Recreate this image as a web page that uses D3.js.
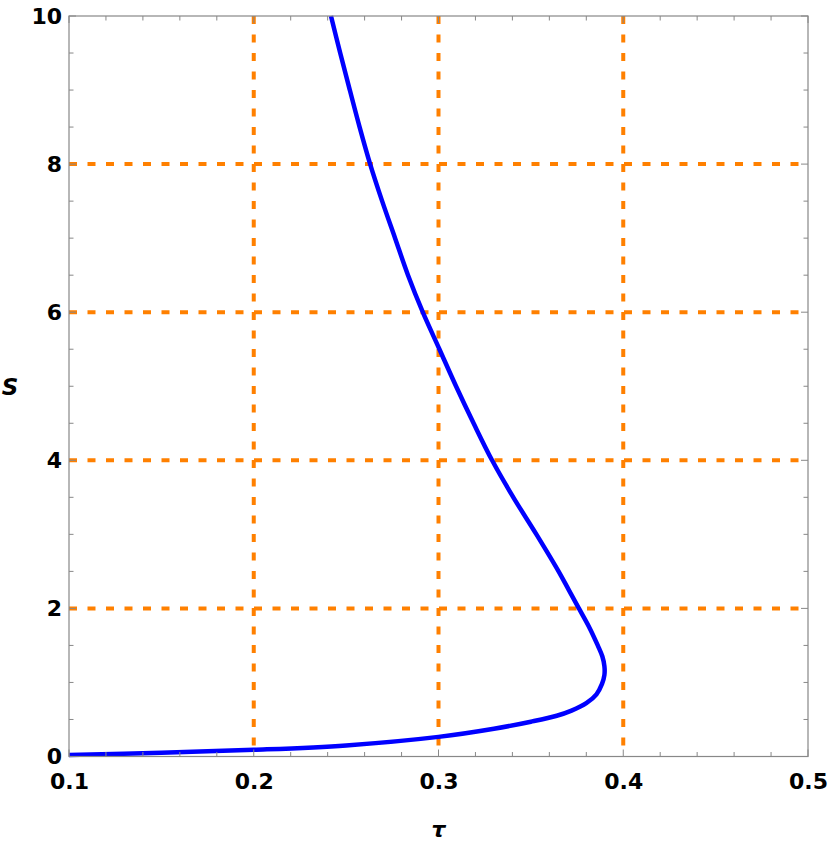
<!DOCTYPE html>
<html>
<head>
<meta charset="utf-8">
<script src="https://cdn.jsdelivr.net/npm/d3@7"></script>
<style>
  html, body { margin: 0; padding: 0; background: #fff; }
  svg { display: block; }
</style>
</head>
<body>
<script>
// Data
const tauValues = [0.1, 0.15, 0.2, 0.25, 0.3, 0.33, 0.35, 0.364, 0.372, 0.380, 0.3855, 0.3885, 0.3898, 0.3898, 0.3887, 0.3862, 0.3815, 0.3760, 0.3705, 0.3650, 0.3530, 0.3405, 0.329, 0.319, 0.3095, 0.3005, 0.2915, 0.2835, 0.2765, 0.2695, 0.263, 0.2573, 0.252, 0.2468, 0.2418];
const sValues   = [0.02, 0.05, 0.09, 0.15, 0.265, 0.375, 0.47, 0.55, 0.62, 0.72, 0.84, 0.98, 1.1, 1.22, 1.35, 1.5, 1.75, 2.0, 2.25, 2.5, 3.0, 3.5, 4.0, 4.5, 5.0, 5.5, 6.0, 6.5, 7.0, 7.5, 8.0, 8.5, 9.0, 9.5, 10.0];
const xTickLabels = [0.1, 0.2, 0.3, 0.4, 0.5];
const yTickLabels = [0, 2, 4, 6, 8, 10];
const xGrid = [0.2, 0.3, 0.4];
const yGrid = [2, 4, 6, 8];
const xMinorTicks = d3.range(0.1, 0.5001, 0.02);
const yMinorTicks = d3.range(0, 10.001, 0.5);

const W = 830, H = 845;
const L = 69, R = 808, T = 16, B = 756.5;

const svg = d3.select("body").append("svg").attr("width", W).attr("height", H);
const x = d3.scaleLinear().domain([0.1, 0.5]).range([L, R]);
const y = d3.scaleLinear().domain([0, 10]).range([B, T]);

const frameColor = "#888";
const font = "'DejaVu Sans', 'Liberation Sans', Arial, sans-serif";

// Grid lines (orange dashed)
const grid = svg.append("g").attr("stroke", "#ff8000").attr("stroke-width", 4).attr("stroke-dasharray", "8,10.5");
grid.selectAll("line.gx").data(xGrid).enter().append("line")
  .attr("x1", d => x(d)).attr("x2", d => x(d)).attr("y1", T).attr("y2", B);
grid.selectAll("line.gy").data(yGrid).enter().append("line")
  .attr("y1", d => y(d)).attr("y2", d => y(d)).attr("x1", L).attr("x2", R);

// Curve
const pts = tauValues.map((t, i) => [t, sValues[i]]);
const line = d3.line().x(d => x(d[0])).y(d => y(d[1])).curve(d3.curveCatmullRom.alpha(0.5));
svg.append("path").datum(pts).attr("d", line)
  .attr("fill", "none").attr("stroke", "#0000ff").attr("stroke-width", 4.5)
  .attr("stroke-linejoin", "round");

// Frame
svg.append("rect").attr("x", L).attr("y", T).attr("width", R - L).attr("height", B - T)
  .attr("fill", "none").attr("stroke", frameColor).attr("stroke-width", 1.2);

// Ticks on all sides, inward
const isMajorX = d => Math.abs(d * 10 - Math.round(d * 10)) < 1e-6;
const isMajorY = d => Math.abs(d / 2 - Math.round(d / 2)) < 1e-6;
const ticks = svg.append("g").attr("stroke", frameColor).attr("stroke-width", 1);
xMinorTicks.forEach(d => {
  const len = isMajorX(d) ? 7 : 4.5;
  ticks.append("line").attr("x1", x(d)).attr("x2", x(d)).attr("y1", B).attr("y2", B - len);
  ticks.append("line").attr("x1", x(d)).attr("x2", x(d)).attr("y1", T).attr("y2", T + len);
});
yMinorTicks.forEach(d => {
  const len = isMajorY(d) ? 7 : 4.5;
  ticks.append("line").attr("y1", y(d)).attr("y2", y(d)).attr("x1", L).attr("x2", L + len);
  ticks.append("line").attr("y1", y(d)).attr("y2", y(d)).attr("x1", R).attr("x2", R - len);
});

// Tick labels
const xAxis = d3.axisBottom(x).tickValues(xTickLabels).tickSize(0).tickPadding(17).tickFormat(d3.format(".1f"));
const gx = svg.append("g").attr("transform", `translate(0,${B})`).call(xAxis);
gx.select(".domain").remove();
gx.selectAll("text").attr("font-family", font).attr("font-weight", "bold").attr("font-size", 22).attr("fill", "#000");

const yAxis = d3.axisLeft(y).tickValues(yTickLabels).tickSize(0).tickPadding(7).tickFormat(d3.format("d"));
const gy = svg.append("g").attr("transform", `translate(${L},0)`).call(yAxis);
gy.select(".domain").remove();
gy.selectAll("text").attr("font-family", font).attr("font-weight", "bold").attr("font-size", 22).attr("fill", "#000");

// Axis titles
svg.append("text").attr("x", (L + R) / 2).attr("y", 837).attr("text-anchor", "middle")
  .attr("font-family", font).attr("font-weight", "bold").attr("font-style", "italic").attr("font-size", 22).text("τ");
svg.append("text").attr("x", 10).attr("y", 395).attr("text-anchor", "middle")
  .attr("font-family", font).attr("font-weight", "bold").attr("font-style", "italic").attr("font-size", 23).text("S");
</script>
</body>
</html>
